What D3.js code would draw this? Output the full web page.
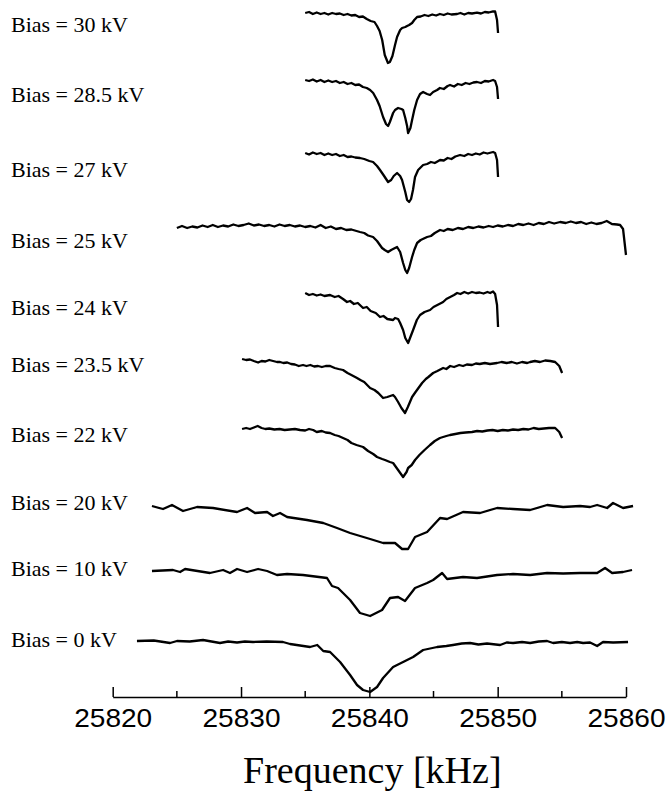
<!DOCTYPE html>
<html><head><meta charset="utf-8">
<script src="https://cdn.jsdelivr.net/npm/d3@7"></script>
<style>html,body{margin:0;padding:0;background:#fff;}svg{display:block;}</style>
</head><body>
<script>
// frequency offset base (kHz); points are [frequency - F0, signal (a.u.)]
const F0 = 25820;
const biasLabels = ["Bias = 30 kV","Bias = 28.5 kV","Bias = 27 kV","Bias = 25 kV","Bias = 24 kV","Bias = 23.5 kV","Bias = 22 kV","Bias = 20 kV","Bias = 10 kV","Bias = 0 kV"];
const stackOffsets = [628, 561, 488, 413, 348, 282, 212, 135, 70, 0];
const labelLevels = [608.7, 539.3, 464.3, 393, 326, 269.3, 199.3, 131, 65, -6];
const xTicksMajor = [25820, 25830, 25840, 25850, 25860];
const xTicksMinor = [25825, 25835, 25845, 25855];

const trace30 = [[15.0,0],[15.3,1],[15.6,-1],[15.9,0.5],[16.2,-1],[16.5,0],[16.8,-1.5],[17.1,0],[17.4,-1],[17.7,-0.5],[18.0,-2],[18.3,-1],[18.6,-2.5],[18.9,-2],[19.2,-4],[19.5,-3.5],[19.8,-6],[20.1,-8],[20.4,-9],[20.6,-13],[20.8,-18],[21.0,-27],[21.2,-42],[21.45,-50],[21.6,-49],[21.8,-43],[22.0,-32],[22.16,-24],[22.4,-17],[22.55,-15],[22.8,-14],[22.94,-13],[23.1,-12],[23.33,-10],[23.5,-7],[23.72,-4],[24.0,-3.5],[24.3,-2],[24.6,-3],[24.9,-1.5],[25.2,-2.5],[25.5,-1],[25.8,-2],[26.1,-0.5],[26.4,-1.5],[26.84,-1],[27.1,0],[27.4,-1.5],[27.7,0],[28.0,-0.5],[28.39,0.3],[28.7,-0.5],[29.0,1],[29.3,0.5],[29.64,1.7],[29.8,1.5],[29.95,-7],[30.03,-20]];
const trace285 = [[15.0,0],[15.3,-1],[15.6,0.5],[15.9,-1.5],[16.2,0],[16.5,-2],[16.8,-0.5],[17.1,-2],[17.4,-1],[17.7,-3],[18.0,-2],[18.3,-4],[18.6,-3],[18.9,-5],[19.2,-4.5],[19.5,-7],[19.8,-8],[20.06,-10],[20.3,-13],[20.6,-20],[20.8,-26],[21.07,-37],[21.3,-44],[21.46,-46],[21.6,-42],[21.85,-33],[22.0,-30],[22.24,-28],[22.5,-29],[22.63,-30],[22.8,-38],[22.94,-46],[23.02,-53],[23.2,-48],[23.33,-40],[23.5,-30],[23.72,-20],[23.95,-14],[24.19,-12],[24.5,-14],[24.73,-15],[24.97,-12],[25.28,-10],[25.5,-8],[25.8,-9],[26.1,-6],[26.29,-5],[26.6,-6.5],[26.9,-4],[27.2,-5],[27.5,-3],[27.8,-4],[28.1,-2.5],[28.39,-2],[28.7,-3],[29.0,-1],[29.3,-1.5],[29.64,0],[29.8,-1],[29.95,-7],[30.03,-19]];
const trace27 = [[15.0,0],[15.3,-1.5],[15.6,0.5],[15.9,-1],[16.2,0],[16.5,-2],[16.8,-0.5],[17.1,-2],[17.4,-1],[17.7,-3],[18.0,-2],[18.3,-4],[18.6,-3.5],[18.9,-4.5],[19.27,-5],[19.6,-6],[20.0,-8],[20.29,-9],[20.6,-13],[20.83,-17],[21.1,-22],[21.46,-29],[21.7,-27],[21.9,-23],[22.16,-20],[22.4,-23],[22.55,-27],[22.8,-39],[22.94,-47],[23.1,-49],[23.25,-46],[23.4,-37],[23.56,-24],[23.8,-17],[24.19,-12],[24.5,-11],[24.8,-9],[25.1,-10],[25.51,-7],[25.8,-7.5],[26.1,-5],[26.4,-6],[26.7,-3.5],[27.07,-2],[27.4,-3],[27.7,-1],[28.0,-2],[28.3,-0.5],[28.6,-1.5],[28.9,0.5],[29.2,-0.5],[29.64,1],[29.8,0],[29.95,-7],[30.03,-24]];
const trace25 = [[5.0,0],[5.4,2],[5.8,0],[6.2,1.5],[6.6,0.5],[7.0,2.5],[7.4,1],[7.8,3],[8.2,1],[8.6,2.5],[9.0,1.5],[9.4,3.5],[9.8,2],[10.2,3],[10.6,4.5],[11.0,2.5],[11.4,3.5],[11.8,2],[12.2,3],[12.6,1.5],[13.0,3.5],[13.4,2],[13.8,3],[14.2,1.5],[14.6,2.5],[15.0,1],[15.4,2],[15.8,0.5],[16.2,3],[16.6,0],[17.0,1.5],[17.4,-1],[17.8,0],[18.2,-2],[18.6,-1.5],[19.0,-3],[19.27,-4],[19.6,-5],[19.9,-7.5],[20.29,-9],[20.6,-13],[20.99,-20],[21.2,-22],[21.46,-24],[21.7,-22],[22.0,-20],[22.16,-19],[22.4,-24],[22.63,-35],[22.8,-42],[22.94,-45],[23.1,-40],[23.33,-29],[23.5,-22],[23.72,-15],[24.0,-12],[24.5,-9],[24.8,-8],[25.1,-5],[25.51,-2],[25.8,-3],[26.1,-1],[26.5,-2],[26.9,0],[27.3,-1],[27.7,1],[28.1,0],[28.5,1.5],[28.9,0.5],[29.3,2],[29.64,1],[30.0,2.5],[30.4,1.5],[30.8,3],[31.2,2],[31.6,4],[32.0,3],[32.4,4.5],[32.8,3],[33.2,5],[33.6,4],[34.0,6],[34.4,4.5],[34.87,6],[35.3,5],[35.7,6.5],[36.1,5],[36.5,6],[36.9,4],[37.3,5.5],[37.7,4],[38.1,5],[38.5,7],[38.9,4],[39.3,3.5],[39.54,3],[39.77,-1],[40.0,-27]];
const trace24 = [[15.0,0],[15.3,-2],[15.6,-1],[15.9,-2.5],[16.2,-1.5],[16.5,-3],[16.94,-2],[17.3,-4],[17.6,-3],[17.95,-6],[18.26,-9],[18.5,-8],[18.8,-11],[19.1,-10],[19.51,-15],[19.8,-14],[20.1,-18],[20.5,-20],[20.83,-24],[21.1,-23],[21.4,-26],[21.85,-27],[22.0,-25],[22.24,-26],[22.4,-30],[22.63,-37],[22.8,-45],[23.02,-50],[23.2,-44],[23.41,-37],[23.7,-27],[23.95,-22],[24.3,-19],[24.73,-17],[25.0,-14],[25.3,-12],[25.75,-9],[26.0,-6],[26.3,-4],[26.6,-2],[26.84,0],[27.1,-1],[27.4,1],[27.7,-0.5],[28.0,1],[28.3,0],[28.6,0.5],[28.9,-0.5],[29.2,1],[29.41,0],[29.64,1.5],[29.8,-1],[29.95,-12],[30.03,-34]];
const trace235 = [[10.08,0],[10.4,-1],[10.7,-0.5],[11.0,-2],[11.33,-3.5],[11.6,-2],[11.9,-2.5],[12.2,-1],[12.5,-2],[12.8,-3],[13.04,-3],[13.3,-4],[13.6,-3.5],[13.9,-5],[14.2,-5.5],[14.5,-7],[14.83,-6],[15.1,-7],[15.4,-6],[15.7,-7.5],[16.0,-7],[16.3,-8],[16.6,-7],[16.94,-7],[17.3,-9],[17.6,-10],[17.95,-11],[18.3,-14],[18.6,-16],[19.04,-19],[19.3,-21],[19.6,-23],[20.06,-29],[20.4,-31],[20.7,-34],[21.07,-39],[21.4,-38],[21.85,-36],[22.0,-38],[22.24,-43],[22.5,-49],[22.78,-54],[23.0,-48],[23.33,-38],[23.6,-33],[24.11,-24],[24.4,-20],[24.6,-18],[24.97,-14],[25.3,-12],[25.75,-9],[26.0,-10],[26.3,-7],[26.6,-8],[27.0,-6],[27.3,-7],[27.6,-5.5],[28.0,-6],[28.3,-4.5],[28.6,-5],[29.0,-4],[29.4,-5],[29.95,-4],[30.3,-3],[30.7,-4],[31.1,-3],[31.5,-4.5],[31.9,-3],[32.3,-4],[32.53,-3],[32.9,-2],[33.3,-3],[33.7,-1.5],[34.1,-2],[34.48,-3],[34.8,-7],[35.02,-14]];
const trace22 = [[10.08,0],[10.4,1],[10.7,0],[11.0,1.5],[11.3,3],[11.6,1],[11.9,0],[12.2,0.5],[12.6,-0.5],[13.0,0],[13.4,-1],[13.8,-0.5],[14.2,0],[14.6,-1],[15.0,-1.5],[15.3,0],[15.62,-1],[15.9,-3],[16.3,-2],[16.6,-3.5],[16.94,-4],[17.3,-6],[17.6,-7],[17.95,-9],[18.3,-11],[18.6,-14],[19.0,-16],[19.51,-18],[19.9,-22],[20.3,-25],[20.6,-28],[21.0,-30],[21.22,-31],[21.6,-33],[21.85,-34],[22.24,-41],[22.63,-48],[22.9,-43],[23.02,-39],[23.3,-36],[23.56,-31],[23.9,-26],[24.3,-21],[24.73,-16],[25.1,-12],[25.5,-9],[26.0,-7],[26.29,-6],[26.7,-5],[27.1,-4],[27.5,-3.5],[28.0,-3],[28.4,-2],[28.8,-2.5],[29.2,-1.5],[29.6,-1],[30.0,-2],[30.4,-1],[30.8,-1.5],[31.2,-0.5],[31.6,-1],[32.0,0],[32.4,-0.5],[32.8,1],[33.2,0],[33.6,0.5],[34.0,1],[34.48,1],[34.8,-3],[35.02,-9]];
const trace20 = [[3.06,0],[3.92,-3],[4.62,1],[5.48,-5],[6.57,-1],[7.82,-2],[9.69,-6],[10.47,-2],[11.09,-7],[12.03,-6],[12.49,-10],[13.04,-7],[13.59,-11],[15.14,-14],[16.41,-17],[17.48,-22],[18.50,-27],[20.06,-33],[21.07,-37],[22.00,-37],[22.55,-43],[23.02,-43],[23.56,-31],[24.50,-26],[25.51,-12],[26.06,-13],[27.30,-6],[28.63,-7],[29.95,-2],[31.20,-3],[32.53,-4],[33.85,1],[35.10,-1],[36.42,0],[37.20,-1],[37.75,1],[38.53,-2],[38.99,3],[39.77,-2],[40.55,0]];
const trace10 = [[3.06,0],[4.70,1],[5.25,-1],[5.64,2],[7.58,-2],[8.60,1],[9.14,-2],[9.69,2],[10.47,-1],[11.33,2],[12.03,0],[12.80,-4],[13.59,-3],[14.83,-4],[16.70,-7],[17.09,-15],[17.56,-17],[18.50,-29],[19.27,-42],[20.06,-45],[20.99,-39],[21.61,-27],[22.24,-26],[22.78,-30],[23.56,-17],[24.50,-12],[24.97,-9],[25.67,-2],[26.06,-8],[27.30,-6],[28.39,-7],[29.95,-4],[31.20,-3],[32.53,-4],[33.85,-2],[35.10,-2.5],[36.42,-2],[37.75,-2],[38.37,3],[38.92,-2],[39.77,-1],[40.47,1]];
const trace0 = [[1.89,0],[3.2,0.5],[4.47,-2],[5.01,0],[6.0,-0.5],[7.04,1],[8.36,-2],[9.0,-0.5],[9.69,-1.5],[10.3,-0.5],[10.94,-1],[12.0,-0.5],[13.27,-1],[13.82,-3],[14.6,-4.5],[15.38,-6],[15.94,-4],[16.41,-10],[16.94,-11],[17.72,-21],[18.50,-34],[19.04,-44],[19.51,-49],[20.06,-51],[20.60,-46],[21.07,-37],[21.85,-26],[22.63,-21],[23.41,-16],[24.19,-9],[25.28,-6],[26.0,-5],[26.52,-4],[27.2,-2.5],[27.85,-2],[28.5,-3.5],[29.17,-2.5],[30.19,-4],[30.7,-1.5],[31.20,-2],[31.9,-1],[32.53,-2],[33.2,-0.5],[33.85,0],[34.32,-2],[35.0,-1],[35.64,-2],[36.2,-1],[36.66,-2],[37.2,-1.5],[37.75,-5],[38.21,-1],[39.0,-1.5],[40.16,-1]];
const traces = [trace30, trace285, trace27, trace25, trace24, trace235, trace22, trace20, trace10, trace0];

const W = 667, H = 791;
const svg = d3.select("body").append("svg").attr("width", W).attr("height", H);

const x = d3.scaleLinear().domain([25820, 25860]).range([112.7, 626]);
const y = d3.scaleLinear().domain([-56, 641]).range([697, 0]);

const line = d3.line().x(d => x(F0 + d[0])).y(d => y(d[1]));

traces.forEach((t, i) => {
  const off = stackOffsets[i];
  svg.append("path")
    .datum(t.map(p => [p[0], p[1] + off]))
    .attr("d", line)
    .attr("fill", "none")
    .attr("stroke", "#000")
    .attr("stroke-width", 2.3)
    .attr("stroke-linejoin", "round")
    .attr("stroke-linecap", "butt");
});

svg.selectAll("text.bias").data(biasLabels).join("text")
  .attr("class", "bias")
  .attr("x", 11)
  .attr("y", (d, i) => y(labelLevels[i]))
  .attr("font-family", "'Liberation Serif', 'Times New Roman', serif")
  .attr("font-size", 22)
  .attr("fill", "#000")
  .text(d => d);

// axis
const axisG = svg.append("g").attr("transform", `translate(0,${y(-56)})`);
axisG.call(d3.axisBottom(x).tickValues(xTicksMajor).tickFormat(d3.format("d"))
  .tickSizeInner(-10).tickSizeOuter(0).tickPadding(12));
axisG.select(".domain").attr("stroke", "#000").attr("stroke-width", 1.5);
axisG.selectAll(".tick line").attr("stroke", "#000").attr("stroke-width", 1.5);
axisG.selectAll(".tick text")
  .attr("font-family", "'Liberation Sans', Arial, sans-serif")
  .attr("font-size", 25)
  .attr("fill", "#000")
  .attr("textLength", 78)
  .attr("lengthAdjust", "spacingAndGlyphs");
axisG.selectAll("line.minor").data(xTicksMinor).join("line")
  .attr("class", "minor")
  .attr("x1", d => x(d)).attr("x2", d => x(d))
  .attr("y1", 0).attr("y2", -6)
  .attr("stroke", "#000").attr("stroke-width", 1.5);

svg.append("text")
  .attr("x", (x.range()[0] + x.range()[1]) / 2 + 3)
  .attr("y", 783)
  .attr("text-anchor", "middle")
  .attr("font-family", "'Liberation Serif', 'Times New Roman', serif")
  .attr("font-size", 38)
  .attr("fill", "#000")
  .text("Frequency [kHz]");
</script>
</body></html>
